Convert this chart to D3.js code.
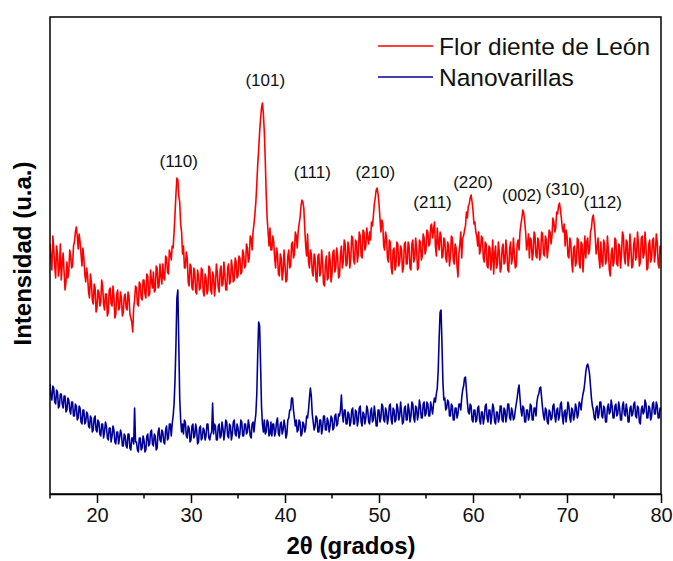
<!DOCTYPE html>
<html>
<head>
<meta charset="utf-8">
<script src="https://cdn.jsdelivr.net/npm/d3@7"></script>
<style>
  body { margin: 0; background: #fff; }
  text { font-family: "Liberation Sans", Arial, sans-serif; }
</style>
</head>
<body>
<svg id="xrd"></svg>
<script>
// XRD patterns, 2-theta from 15 to 80 deg, 0.1 deg step, intensity in a.u.
const START = 15, STEP = 0.1;

const FLOR = [
  250, 236, 224, 258, 246, 228, 216, 248, 240, 218, 226, 250, 214, 230, 241, 222, 204, 212, 232, 216,
  222, 244, 238, 226, 228, 248, 252, 262, 267, 258, 245, 260, 252, 240, 228, 246, 236, 220, 212, 226,
  218, 202, 196, 220, 212, 194, 190, 210, 206, 182, 186, 204, 202, 188, 192, 214, 208, 190, 184, 200,
  200, 178, 182, 204, 206, 190, 188, 208, 198, 176, 180, 200, 204, 184, 186, 202, 196, 178, 182, 198,
  200, 186, 184, 202, 198, 180, 176, 172, 162, 186, 194, 208, 206, 190, 188, 212, 210, 196, 194, 214,
  214, 200, 196, 220, 218, 198, 200, 224, 212, 206, 222, 202, 204, 228, 226, 206, 208, 230, 218, 210,
  230, 216, 214, 238, 236, 222, 220, 244, 240, 234, 248, 246, 262, 280, 300, 316, 314, 298, 292, 270,
  262, 240, 248, 226, 226, 242, 236, 212, 208, 230, 228, 206, 204, 226, 222, 202, 200, 224, 218, 204,
  206, 226, 224, 202, 198, 220, 216, 200, 204, 228, 226, 204, 200, 222, 218, 198, 208, 230, 222, 206,
  202, 224, 228, 208, 210, 232, 220, 204, 204, 226, 230, 210, 212, 234, 226, 212, 214, 236, 232, 216,
  218, 238, 236, 220, 222, 244, 240, 226, 228, 250, 246, 232, 236, 258, 256, 244, 262, 270, 280, 292,
  310, 330, 344, 362, 375, 386, 391, 380, 362, 334, 300, 276, 262, 248, 266, 244, 244, 258, 252, 236,
  226, 246, 240, 220, 218, 240, 236, 214, 222, 244, 230, 212, 214, 238, 244, 226, 228, 250, 252, 236,
  240, 262, 258, 246, 262, 270, 276, 288, 294, 292, 286, 266, 248, 238, 260, 232, 226, 244, 240, 222,
  218, 240, 236, 214, 212, 238, 240, 218, 222, 244, 232, 210, 208, 230, 238, 214, 216, 242, 234, 212,
  220, 242, 244, 222, 226, 246, 238, 216, 218, 240, 248, 226, 232, 254, 250, 228, 230, 252, 246, 226,
  236, 258, 256, 234, 230, 254, 252, 232, 240, 262, 258, 238, 236, 264, 262, 244, 248, 266, 256, 250,
  262, 254, 272, 268, 278, 290, 296, 304, 306, 300, 290, 276, 262, 274, 270, 248, 244, 262, 256, 236,
  232, 254, 252, 226, 220, 244, 246, 224, 228, 252, 250, 228, 232, 248, 244, 222, 226, 250, 252, 230,
  230, 252, 248, 226, 224, 250, 254, 232, 236, 256, 246, 224, 226, 254, 252, 234, 238, 260, 256, 240,
  244, 264, 262, 248, 250, 268, 270, 256, 264, 272, 248, 238, 266, 252, 244, 262, 258, 236, 238, 256,
  254, 236, 232, 252, 248, 228, 238, 258, 256, 234, 230, 250, 246, 228, 217, 240, 250, 262, 236, 256,
  258, 264, 268, 282, 276, 288, 290, 296, 299, 292, 284, 270, 272, 262, 258, 248, 262, 240, 244, 258,
  256, 236, 232, 252, 250, 228, 226, 248, 246, 224, 236, 254, 220, 240, 248, 226, 230, 252, 242, 222,
  226, 246, 250, 230, 232, 254, 244, 224, 222, 246, 252, 230, 236, 256, 240, 226, 228, 250, 254, 244,
  262, 270, 276, 284, 281, 272, 262, 244, 250, 260, 236, 256, 254, 234, 240, 262, 258, 238, 236, 256,
  252, 234, 240, 262, 260, 240, 238, 258, 254, 236, 246, 264, 262, 250, 258, 276, 272, 262, 266, 282,
  280, 288, 291, 284, 276, 266, 262, 270, 248, 264, 258, 238, 236, 256, 252, 232, 222, 246, 248, 228,
  232, 256, 254, 230, 226, 252, 250, 222, 240, 258, 236, 252, 256, 240, 244, 262, 266, 276, 279, 270,
  258, 240, 246, 256, 236, 226, 252, 232, 228, 254, 250, 230, 234, 258, 244, 224, 218, 240, 246, 228,
  232, 256, 254, 230, 228, 250, 248, 226, 240, 262, 258, 236, 230, 254, 252, 228, 236, 260, 246, 226,
  228, 250, 256, 234, 238, 262, 250, 228, 232, 256, 258, 236, 240, 262, 248, 224, 226, 250, 254, 232,
  236, 254, 256, 232, 240, 260, 252, 230, 226, 248, 240
];

const NANO = [
  110, 98, 94, 108, 106, 92, 90, 104, 102, 86, 88, 100, 100, 90, 86, 98, 98, 82, 84, 96,
  94, 84, 80, 92, 92, 78, 78, 90, 88, 74, 76, 88, 86, 72, 70, 84, 84, 70, 72, 82,
  80, 68, 66, 78, 76, 62, 64, 76, 78, 64, 62, 74, 72, 60, 58, 70, 70, 56, 62, 72,
  68, 56, 54, 66, 66, 52, 58, 68, 64, 52, 50, 62, 62, 50, 56, 64, 60, 48, 48, 60,
  58, 48, 46, 60, 60, 46, 44, 56, 56, 50, 86, 52, 52, 44, 42, 56, 56, 44, 46, 58,
  54, 42, 44, 58, 60, 48, 50, 62, 64, 50, 48, 60, 58, 44, 46, 62, 66, 54, 52, 64,
  62, 52, 50, 64, 68, 54, 56, 70, 70, 58, 70, 78, 90, 114, 150, 196, 204, 150, 96, 74,
  62, 70, 60, 74, 72, 58, 56, 68, 66, 52, 54, 68, 70, 56, 58, 70, 64, 50, 52, 66,
  68, 54, 56, 66, 64, 54, 58, 70, 70, 56, 54, 60, 62, 91, 60, 70, 68, 54, 54, 68,
  70, 56, 58, 72, 66, 54, 62, 74, 72, 58, 56, 70, 68, 54, 60, 72, 74, 60, 58, 70,
  66, 56, 60, 74, 72, 58, 58, 70, 70, 60, 62, 74, 68, 58, 56, 70, 72, 62, 72, 80,
  100, 140, 172, 168, 130, 88, 70, 62, 74, 60, 62, 74, 72, 58, 60, 72, 58, 70, 70, 58,
  62, 72, 76, 60, 58, 70, 72, 60, 64, 74, 68, 56, 60, 74, 76, 84, 84, 96, 96, 84,
  76, 68, 74, 62, 64, 74, 72, 58, 60, 72, 70, 62, 66, 78, 76, 84, 96, 106, 98, 80,
  72, 64, 68, 78, 76, 62, 62, 74, 74, 60, 66, 78, 78, 64, 64, 76, 72, 62, 68, 78,
  76, 64, 66, 78, 80, 68, 70, 80, 78, 84, 99, 80, 72, 84, 84, 70, 70, 82, 80, 68,
  72, 84, 86, 70, 70, 84, 82, 68, 74, 86, 88, 72, 68, 82, 80, 70, 76, 88, 84, 72,
  70, 82, 86, 72, 74, 88, 80, 68, 68, 84, 84, 72, 76, 90, 88, 74, 72, 86, 82, 70,
  76, 88, 90, 74, 70, 86, 84, 72, 74, 90, 86, 74, 78, 92, 82, 70, 72, 86, 88, 74,
  74, 90, 84, 72, 78, 92, 90, 76, 72, 88, 86, 74, 80, 94, 88, 76, 76, 90, 92, 78,
  80, 92, 90, 78, 78, 92, 86, 80, 90, 96, 92, 100, 106, 124, 156, 182, 184, 150, 112, 94,
  96, 84, 86, 94, 92, 78, 78, 90, 88, 74, 74, 86, 86, 76, 80, 90, 90, 84, 96, 104,
  108, 116, 117, 104, 92, 82, 80, 90, 88, 74, 72, 84, 84, 72, 74, 86, 88, 74, 70, 82,
  82, 70, 76, 88, 90, 76, 72, 84, 84, 70, 78, 90, 86, 72, 70, 82, 82, 72, 76, 88,
  88, 74, 72, 86, 84, 72, 78, 90, 90, 76, 74, 86, 82, 74, 76, 84, 90, 96, 104, 109,
  96, 84, 78, 88, 86, 72, 72, 84, 84, 74, 78, 90, 88, 74, 74, 86, 86, 78, 92, 98,
  100, 106, 107, 96, 86, 78, 74, 86, 84, 72, 70, 84, 82, 74, 76, 88, 90, 78, 72, 84,
  86, 74, 78, 90, 92, 78, 70, 82, 84, 72, 80, 92, 88, 76, 72, 86, 84, 74, 78, 90,
  86, 76, 80, 92, 90, 84, 94, 100, 104, 112, 122, 128, 130, 126, 120, 108, 96, 88, 84, 76,
  74, 86, 88, 76, 80, 92, 92, 78, 76, 88, 86, 72, 72, 86, 90, 80, 82, 94, 88, 76,
  76, 88, 90, 78, 80, 92, 86, 74, 74, 88, 92, 80, 78, 90, 84, 72, 72, 86, 88, 78,
  80, 90, 92, 78, 76, 88, 86, 72, 70, 84, 88, 80, 82, 94, 90, 76, 76, 88, 86, 74,
  78, 90, 92, 80, 80, 92, 88, 76, 76, 86, 84
];

const PEAK_LABELS = ["(110)", "(101)", "(111)", "(210)", "(211)", "(220)", "(002)", "(310)", "(112)"];
const PEAK_POS = [28.7, 37.9, 42.9, 49.6, 55.7, 60.0, 65.2, 69.8, 73.8];
const PEAK_HT = [327, 408, 316, 316, 286, 306, 293, 299, 286];

const X_TICKS = [20, 30, 40, 50, 60, 70, 80];
const X_MINOR = [15, 25, 35, 45, 55, 65, 75];

const W = 673, H = 561;
const margin = { top: 17, right: 12, bottom: 67, left: 50 };

const svg = d3.select("#xrd").attr("width", W).attr("height", H);

const x = d3.scaleLinear().domain([15, 80]).range([margin.left, W - margin.right]);
const y = d3.scaleLinear().domain([0, 477]).range([H - margin.bottom, margin.top]);

const theta = d3.range(FLOR.length).map(i => START + i * STEP);

svg.append("clipPath").attr("id", "clip")
  .append("rect")
  .attr("x", margin.left).attr("y", margin.top)
  .attr("width", W - margin.left - margin.right)
  .attr("height", H - margin.top - margin.bottom);

const line = d3.line()
  .x((d, i) => x(theta[i]))
  .y(d => y(d));

svg.append("path")
  .datum(NANO)
  .attr("clip-path", "url(#clip)")
  .attr("fill", "none")
  .attr("stroke", "#000099")
  .attr("stroke-width", 1.6)
  .attr("stroke-linejoin", "round")
  .attr("d", line);

svg.append("path")
  .datum(FLOR)
  .attr("clip-path", "url(#clip)")
  .attr("fill", "none")
  .attr("stroke", "#ff0000")
  .attr("stroke-width", 1.6)
  .attr("stroke-linejoin", "round")
  .attr("d", line);

// frame
svg.append("rect")
  .attr("x", margin.left).attr("y", margin.top)
  .attr("width", W - margin.left - margin.right)
  .attr("height", H - margin.top - margin.bottom)
  .attr("fill", "none")
  .attr("stroke", "#000")
  .attr("stroke-width", 1.5);

// bottom axis
const xAxis = svg.append("g")
  .attr("transform", "translate(0," + (H - margin.bottom) + ")")
  .call(d3.axisBottom(x).tickValues(X_TICKS).tickSize(9).tickSizeOuter(0).tickPadding(5));
xAxis.select(".domain").attr("stroke-width", 1.5);
xAxis.selectAll(".tick line").attr("stroke-width", 1.5);
xAxis.selectAll(".tick text")
  .attr("font-size", 20)
  .attr("font-family", "Liberation Sans, Arial, sans-serif")
  .attr("fill", "#111");

svg.append("g")
  .selectAll("line")
  .data(X_MINOR)
  .enter().append("line")
  .attr("x1", d => x(d)).attr("x2", d => x(d))
  .attr("y1", H - margin.bottom).attr("y2", H - margin.bottom + 4.5)
  .attr("stroke", "#000")
  .attr("stroke-width", 1.5);

// peak labels
svg.append("g")
  .selectAll("text")
  .data(PEAK_LABELS)
  .enter().append("text")
  .attr("x", (d, i) => x(PEAK_POS[i]))
  .attr("y", (d, i) => y(PEAK_HT[i]))
  .attr("text-anchor", "middle")
  .attr("font-size", 17)
  .attr("fill", "#111")
  .text(d => d);

// axis titles
svg.append("text")
  .attr("x", 351)
  .attr("y", 554)
  .attr("text-anchor", "middle")
  .attr("font-size", 24)
  .attr("font-weight", "bold")
  .text("2θ (grados)");

svg.append("text")
  .attr("transform", "translate(31," + ((margin.top + H - margin.bottom) / 2 - 2) + ") rotate(-90)")
  .attr("text-anchor", "middle")
  .attr("font-size", 24)
  .attr("font-weight", "bold")
  .text("Intensidad (u.a.)");

// legend
const legend = svg.selectAll(".legend")
  .data([["Flor diente de León", "#ff0000"], ["Nanovarillas", "#000099"]])
  .enter().append("g")
  .attr("class", "legend")
  .attr("transform", (d, i) => "translate(378," + (46 + i * 31) + ")");

legend.append("line")
  .attr("x1", 0).attr("x2", 55)
  .attr("stroke", d => d[1])
  .attr("stroke-width", 1.5);

legend.append("text")
  .attr("x", 61)
  .attr("y", 9)
  .attr("font-size", 24.5)
  .attr("fill", "#111")
  .text(d => d[0]);
</script>
</body>
</html>
